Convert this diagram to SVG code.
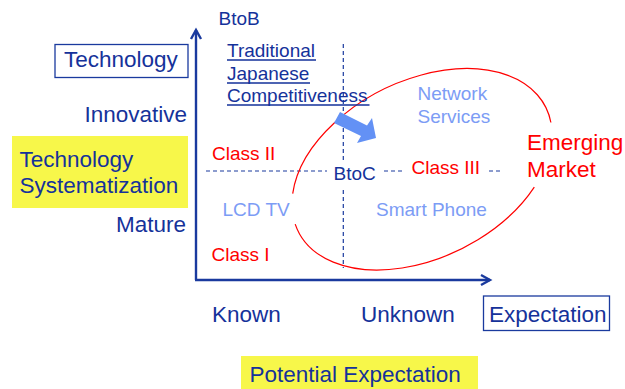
<svg xmlns="http://www.w3.org/2000/svg" width="625" height="389" viewBox="0 0 625 389">
<defs>
<style>
text{font-family:"Liberation Sans",Arial,sans-serif;}
.big{font-size:22.5px;fill:#15329a;}
.sm{font-size:19px;}
.dk{fill:#15329a;}
.red{fill:#ff0000;}
.lb{fill:#7c9cf5;}
.ax{stroke:#1a3a9e;stroke-width:2.4;fill:none;}
.dash{stroke:#1a3a9e;stroke-width:1.2;stroke-dasharray:4 3;fill:none;}
.box{fill:#fff;stroke:#1a3a9e;stroke-width:1.3;}
.hl{fill:#f7f74a;}
.ul{stroke:#15329a;stroke-width:1.3;}
</style>
<marker id="ah" markerUnits="userSpaceOnUse" markerWidth="14" markerHeight="14" viewBox="-10 -7 12 14" refX="0" refY="0" orient="auto">
<path d="M-9,-5 L0,0 L-9,5" fill="none" stroke="#1a3a9e" stroke-width="2.4"/>
</marker>
</defs>
<rect width="625" height="389" fill="#fff"/>

<g id="connectors">
<path class="ax" d="M196,280 L196,30" marker-end="url(#ah)"/>
<path class="ax" d="M195,280 L490,280" marker-end="url(#ah)"/>
<path class="dash" d="M206,171 H327 M384,171 H404 M489,171 H502"/>
<path class="dash" d="M343.3,44 V163 M343.3,190 V268"/>
<path d="M534.3,187.1 A138.4,88.6 -26.5 0 1 295.2,224.1" fill="none" stroke="#ff0000" stroke-width="1.2"/>
<path d="M292.7,193.6 A138.4,88.6 -26.5 0 1 550.9,122.5" fill="none" stroke="#ff0000" stroke-width="1.2"/>
<polygon points="340,112 367,125.5 372,118 376,138 357,143 361,136 334,123" fill="#6391f5"/>
</g>

<g id="btob"><text class="sm dk" x="218.5" y="25">BtoB</text></g>
<g id="technology">
<rect class="box" x="55" y="44.5" width="133" height="33"/>
<text class="big" x="64" y="67">Technology</text>
</g>
<g id="innovative"><text class="big" x="187" y="122" text-anchor="end">Innovative</text></g>
<g id="tech-sys">
<rect class="hl" x="12" y="136" width="176" height="72"/>
<text class="big" x="19.5" y="167">Technology</text>
<text class="big" x="19.5" y="193">Systematization</text>
</g>
<g id="mature"><text class="big" x="186" y="232" text-anchor="end">Mature</text></g>
<g id="traditional">
<text class="sm dk" x="227" y="57">Traditional</text>
<text class="sm dk" x="227" y="80">Japanese</text>
<text class="sm dk" x="227" y="102">Competitiveness</text>
<path class="ul" d="M227,60 H316 M227,83 H310 M227,105 H369.5"/>
</g>
<g id="class2"><text class="sm red" x="212" y="160">Class II</text></g>
<g id="btoc"><text class="sm dk" x="333.5" y="180">BtoC</text></g>
<g id="class3"><text class="sm red" x="411.5" y="173.5">Class III</text></g>
<g id="network"><text class="sm lb" x="417.5" y="99.5">Network</text><text class="sm lb" x="417.5" y="122.5">Services</text></g>
<g id="emerging"><text class="big red" x="527" y="149.5" style="fill:#ff0000">Emerging</text><text class="big red" x="527" y="177" style="fill:#ff0000">Market</text></g>
<g id="lcdtv"><text class="sm lb" x="222.5" y="216">LCD TV</text></g>
<g id="smartphone"><text class="sm lb" x="376" y="216">Smart Phone</text></g>
<g id="class1"><text class="sm red" x="211.5" y="261">Class I</text></g>
<g id="known"><text class="big" x="212" y="322">Known</text></g>
<g id="unknown"><text class="big" x="361" y="322">Unknown</text></g>
<g id="expectation">
<rect class="box" x="483.5" y="296" width="126" height="34.5"/>
<text class="big" x="489" y="322">Expectation</text>
</g>
<g id="potential">
<rect class="hl" x="241" y="356" width="237" height="33"/>
<text class="big" x="249.5" y="381.5">Potential Expectation</text>
</g>
</svg>
